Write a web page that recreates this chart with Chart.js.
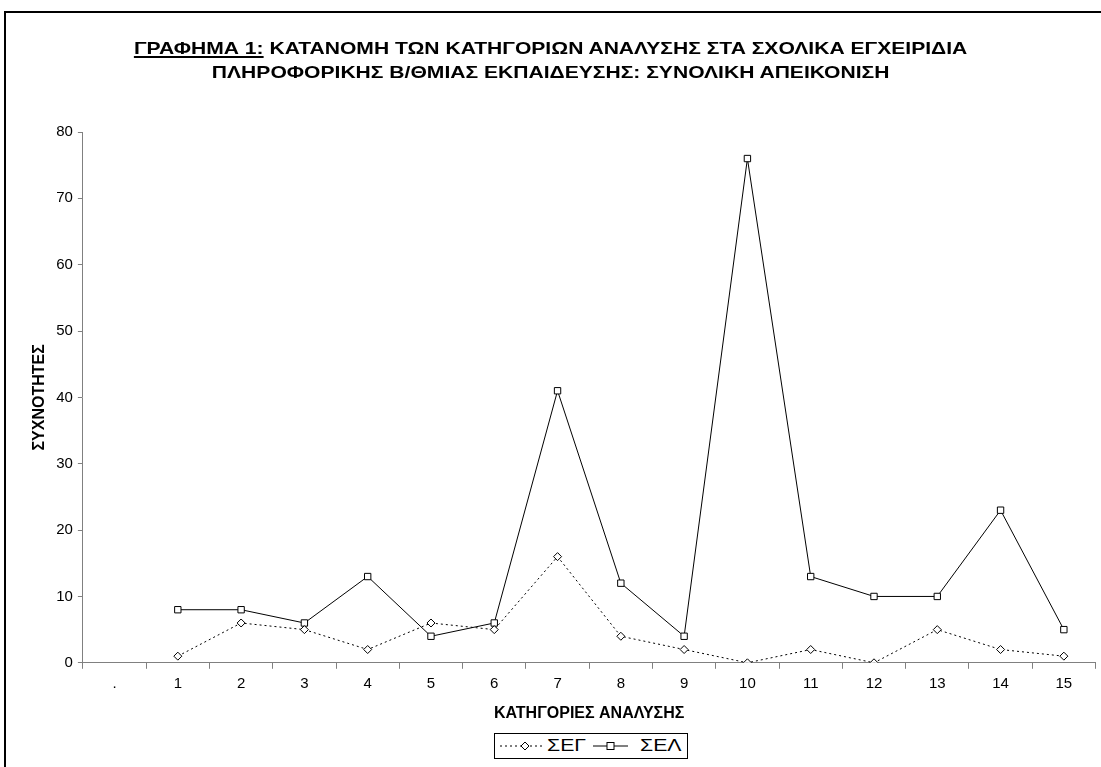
<!DOCTYPE html>
<html>
<head>
<meta charset="utf-8">
<script src="https://cdn.jsdelivr.net/npm/chart.js@4/dist/chart.umd.min.js"></script>
<style>
  html, body { margin: 0; padding: 0; background: #fff; overflow: hidden; }
  body { width: 1101px; height: 767px; position: relative; font-family: "Liberation Sans", Arial, sans-serif; }
  #frame { position: absolute; left: 4px; top: 11px; width: 1200px; height: 900px; border: 2px solid #000; box-sizing: border-box; }
  #wrap { position: absolute; left: 0; top: 0; width: 1101px; height: 767px; }
  #title { position: absolute; left: 0; top: 37px; width: 1101px; text-align: center; font-weight: bold; font-size: 17px; line-height: 24px; color: #000;
           transform: scaleX(1.24); transform-origin: 550px 0; }
  #title u { text-decoration-thickness: 2px; text-underline-offset: 2px; }
  #legend { position: absolute; left: 494px; top: 733px; width: 194px; height: 26px; border: 1px solid #000; box-sizing: border-box; background: #fff; color: #000; }
  #legend svg { position: absolute; top: 6px; }
  #legend span { position: absolute; top: 2px; font-size: 17px; line-height: 20px; transform: scaleX(1.25); transform-origin: 0 0; }
</style>
</head>
<body>
<div id="frame"></div>
<div id="wrap"><canvas id="chart" width="1101" height="767"></canvas></div>
<div id="title"><u>ΓΡΑΦΗΜΑ 1:</u> ΚΑΤΑΝΟΜΗ ΤΩΝ ΚΑΤΗΓΟΡΙΩΝ ΑΝΑΛΥΣΗΣ ΣΤΑ ΣΧΟΛΙΚΑ ΕΓΧΕΙΡΙΔΙΑ<br>ΠΛΗΡΟΦΟΡΙΚΗΣ Β/ΘΜΙΑΣ ΕΚΠΑΙΔΕΥΣΗΣ: ΣΥΝΟΛΙΚΗ ΑΠΕΙΚΟΝΙΣΗ</div>
<div id="legend">
  <svg style="left:4px" width="46" height="12"><line x1="1" y1="6" x2="45" y2="6" stroke="#000" stroke-width="1.2" stroke-dasharray="2,3"/><path d="M26 2 L30 6 L26 10 L22 6 Z" fill="#fff" stroke="#000" stroke-width="1"/></svg>
  <span style="left:52px">ΣΕΓ</span>
  <svg style="left:98px" width="36" height="12"><line x1="0" y1="6" x2="35" y2="6" stroke="#000" stroke-width="1"/><rect x="14" y="2.5" width="7" height="7" fill="#fff" stroke="#000" stroke-width="1"/></svg>
  <span style="left:145px">ΣΕΛ</span>
</div>
<script>
const categories = [".", "1", "2", "3", "4", "5", "6", "7", "8", "9", "10", "11", "12", "13", "14", "15"];
const segValues = [null, 1, 6, 5, 2, 6, 5, 16, 4, 2, 0, 2, 0, 5, 2, 1];
const selValues = [null, 8, 8, 6, 13, 4, 6, 41, 12, 4, 76, 13, 10, 10, 23, 5];
const yTicks = [0, 10, 20, 30, 40, 50, 60, 70, 80];

const axisColor = "#808080";
const fam = "'Liberation Sans', Arial, sans-serif";
const tickFont = { family: fam, size: 15 };
const titleFont = { family: fam, size: 16, weight: "bold" };

new Chart(document.getElementById("chart"), {
  type: "line",
  data: {
    labels: categories,
    datasets: [
      {
        label: "ΣΕΓ",
        data: segValues,
        borderColor: "#000",
        borderWidth: 1,
        borderDash: [2, 3],
        pointStyle: "rectRot",
        pointRadius: 4,
        pointBackgroundColor: "#fff",
        pointBorderColor: "#000",
        pointBorderWidth: 1,
        tension: 0,
        fill: false
      },
      {
        label: "ΣΕΛ",
        data: selValues,
        borderColor: "#000",
        borderWidth: 1,
        pointStyle: "rect",
        pointRadius: 4.5,
        pointBackgroundColor: "#fff",
        pointBorderColor: "#000",
        pointBorderWidth: 1,
        tension: 0,
        fill: false
      }
    ]
  },
  options: {
    responsive: false,
    animation: false,
    devicePixelRatio: 1,
    layout: { padding: { left: 30, right: 3, top: 132, bottom: 44 } },
    plugins: {
      legend: { display: false },
      title: { display: false },
      tooltip: { enabled: false }
    },
    scales: {
      x: {
        offset: true,
        grid: { display: true, drawOnChartArea: false, offset: true, tickLength: 6, color: axisColor, tickColor: axisColor },
        border: { display: true, color: axisColor, width: 1 },
        ticks: { color: "#000", font: tickFont, padding: 6, maxRotation: 0, autoSkip: false },
        title: { display: true, text: "ΚΑΤΗΓΟΡΙΕΣ ΑΝΑΛΥΣΗΣ", color: "#000", font: titleFont, padding: { top: 5, bottom: 0 } }
      },
      y: {
        min: 0,
        max: 80,
        afterBuildTicks: (axis) => { axis.ticks = yTicks.map(v => ({ value: v })); },
        grid: { display: true, drawOnChartArea: false, tickLength: 5, color: axisColor, tickColor: axisColor },
        border: { display: true, color: axisColor, width: 1 },
        ticks: { color: "#000", font: tickFont, padding: 5 },
        title: { display: true, text: "ΣΥΧΝΟΤΗΤΕΣ", color: "#000", font: titleFont, padding: { top: 0, bottom: 2 } }
      }
    }
  }
});
</script>
</body>
</html>
